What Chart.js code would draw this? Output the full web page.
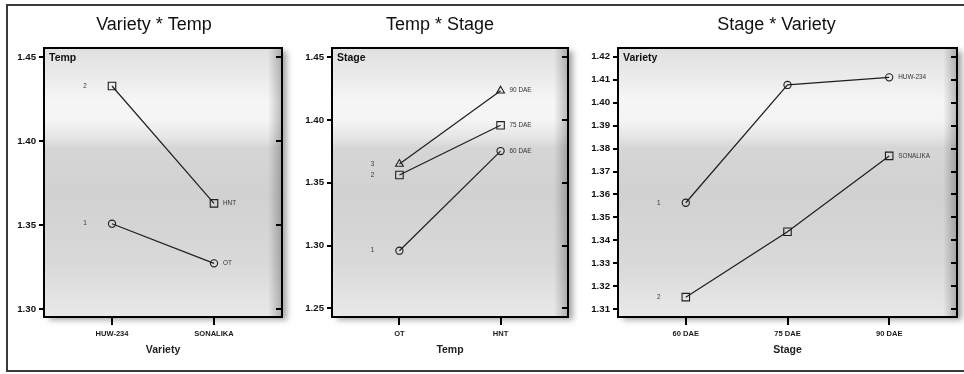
<!DOCTYPE html>
<html><head><meta charset="utf-8">
<script src="https://cdn.jsdelivr.net/npm/chart.js@4"></script>
<style>
html,body{margin:0;padding:0;background:#fff;width:964px;height:374px;overflow:hidden;position:relative}
#frame{position:absolute;left:6px;top:4px;width:990px;height:368px;border:2px solid #3a3a3a;box-sizing:border-box}
canvas{position:absolute;top:0}
</style></head><body>
<div id="frame"></div>
<canvas id="c1" width="292" height="362" style="left:8px"></canvas>
<canvas id="c2" width="280" height="362" style="left:300px"></canvas>
<canvas id="c3" width="375" height="362" style="left:589px"></canvas>
<script>
// ---- data ----
const varieties = ["HUW-234", "SONALIKA"];
const temps = ["OT", "HNT"];
const stages = ["60 DAE", "75 DAE", "90 DAE"];

// Variety * Temp
const vtOT  = [1.3508, 1.3272];
const vtHNT = [1.4327, 1.3629];
// Temp * Stage
const ts60 = [1.2959, 1.3753];
const ts75 = [1.3562, 1.3958];
const ts90 = [1.3650, 1.4234];
// Stage * Variety
const svHUW = [1.3564, 1.4077, 1.4110];
const svSON = [1.3153, 1.3438, 1.3768];

const yTicks1 = [1.30, 1.35, 1.40, 1.45];
const yTicks2 = [1.25, 1.30, 1.35, 1.40, 1.45];
const yTicks3 = [1.31, 1.32, 1.33, 1.34, 1.35, 1.36, 1.37, 1.38, 1.39, 1.40, 1.41, 1.42];

// ---- fonts ----
function hasFont(name){
  const c = document.createElement('canvas').getContext('2d');
  const s = 'abcdefgHIJKLmnop1234WWW';
  c.font = '40px monospace'; const a = c.measureText(s).width;
  c.font = '40px "' + name + '", monospace'; const b = c.measureText(s).width;
  return Math.abs(a - b) > 0.5;
}
const NARROW = hasFont('Liberation Sans Narrow');
const NF = NARROW ? '"Liberation Sans Narrow", "Arial Narrow", sans-serif' : '"Liberation Sans", Arial, sans-serif';
const NS = NARROW ? 1 : 0.84;

const deco = {
  id: 'panelDeco',
  beforeDraw(chart, args, o){
    const {ctx, chartArea: a} = chart;
    ctx.save();
    ctx.shadowColor = 'rgba(0,0,0,0.35)';
    ctx.shadowBlur = 6; ctx.shadowOffsetX = 5; ctx.shadowOffsetY = 3;
    ctx.fillStyle = '#dcdcdc';
    ctx.fillRect(a.left, a.top, a.width, a.height);
    ctx.restore();
    ctx.save();
    const g = ctx.createLinearGradient(0, a.top, 0, a.bottom);
    g.addColorStop(0, '#e0e0e0');
    g.addColorStop(0.10, '#eaeaea');
    g.addColorStop(0.20, '#f6f6f6');
    g.addColorStop(0.27, '#f4f4f4');
    g.addColorStop(0.33, '#e6e6e6');
    g.addColorStop(0.37, '#d6d6d6');
    g.addColorStop(0.55, '#d1d1d1');
    g.addColorStop(0.80, '#d9d9d9');
    g.addColorStop(0.95, '#e5e5e5');
    g.addColorStop(1, '#e8e8e8');
    ctx.fillStyle = g;
    ctx.fillRect(a.left, a.top, a.width, a.height);
    const h = ctx.createLinearGradient(a.right - 14, 0, a.right, 0);
    h.addColorStop(0, 'rgba(0,0,0,0)');
    h.addColorStop(1, 'rgba(0,0,0,0.25)');
    ctx.fillStyle = h;
    ctx.fillRect(a.right - 14, a.top, 14, a.height);
    ctx.restore();
  },
  afterDatasetsDraw(chart, args, o){
    const {ctx, chartArea: a} = chart;
    const ys = chart.scales.y;
    ctx.save();
    ctx.strokeStyle = '#000'; ctx.lineWidth = 2;
    ctx.strokeRect(a.left, a.top, a.width, a.height);
    ctx.beginPath();
    ys.ticks.forEach(t => {
      const y = Math.round(ys.getPixelForValue(t.value));
      ctx.moveTo(a.right - 6, y); ctx.lineTo(a.right, y);
    });
    ctx.stroke();
    ctx.fillStyle = '#111';
    ctx.font = 'bold ' + (12.5 * NS) + 'px ' + NF;
    ctx.textAlign = 'left'; ctx.textBaseline = 'middle';
    ctx.fillText(o.inner, a.left + 5, a.top + 10);
    ctx.font = (7 * NS + (NARROW ? 0 : 0.5)) + 'px ' + NF;
    ctx.fillStyle = '#333';
    chart.data.datasets.forEach((d, i) => {
      const m = chart.getDatasetMeta(i);
      const f = m.data[0], l = m.data[m.data.length - 1];
      ctx.textAlign = 'center';
      ctx.fillText(o.left[i], f.x - 27, f.y);
      ctx.textAlign = 'left';
      ctx.fillText(o.right[i], l.x + 9, l.y);
    });
    ctx.restore();
  }
};

function panel(id, o){
  const ds = o.series.map(s => ({
    data: s.values.map((v, j) => ({x: j, y: v})),
    borderColor: '#1e1e1e', borderWidth: 1.2,
    pointStyle: s.style, pointRadius: s.r, pointHoverRadius: s.r,
    pointBorderColor: '#1e1e1e', pointBackgroundColor: 'rgba(0,0,0,0)', pointBorderWidth: 1.1,
    tension: 0, fill: false
  }));
  return new Chart(document.getElementById(id), {
    type: 'line',
    data: {datasets: ds},
    options: {
      responsive: false, animation: false, devicePixelRatio: 1,
      layout: {padding: 0},
      plugins: {
        legend: {display: false}, tooltip: {enabled: false},
        title: {display: true, text: o.title,
          font: {family: '"Liberation Sans", Arial, sans-serif', size: 18, weight: 'normal', lineHeight: 1.2},
          color: '#111', padding: {top: 14, bottom: 12.4}},
        panelDeco: {inner: o.inner, left: o.left, right: o.right}
      },
      scales: {
        x: {type: 'linear', min: -2/3, max: o.cats.length - 1 + 2/3,
          afterBuildTicks: s => { s.ticks = o.cats.map((c, i) => ({value: i})); },
          ticks: {callback: (v, i) => o.cats[i], font: {family: NF, size: 9 * NS, weight: 'bold'},
            color: '#1a1a1a', padding: 4, autoSkip: false, maxRotation: 0},
          grid: {display: true, drawOnChartArea: false, drawTicks: true, tickLength: 8, lineWidth: 2, color: '#000'},
          border: {display: false},
          title: {display: true, text: o.xTitle, font: {family: NF, size: 12.5 * NS, weight: 'bold'},
            color: '#222', padding: {top: 0, bottom: 5.5}},
          afterFit: s => { s.height = 45; }},
        y: {type: 'linear', min: o.min, max: o.max,
          afterBuildTicks: s => { s.ticks = o.ticks.map(v => ({value: v})); },
          ticks: {callback: v => v.toFixed(2), font: {family: NF, size: 11.5 * NS, weight: 'bold'}, color: '#111', padding: 3},
          grid: {display: true, drawOnChartArea: false, tickLength: 5, lineWidth: 2, color: '#000'},
          border: {display: false},
          afterFit: s => { s.width = o.yw; }},
        yR: {position: 'right', display: true, min: 0, max: 1,
          ticks: {display: false}, grid: {display: false}, border: {display: false},
          afterFit: s => { s.width = o.rw; }}
      }
    },
    plugins: [deco]
  });
}

panel('c1', {
  title: 'Variety * Temp', xTitle: 'Variety', inner: 'Temp', cats: varieties,
  min: 1.2953, max: 1.4553, ticks: yTicks1, yw: 36, rw: 18,
  series: [
    {values: vtOT, style: 'circle', r: 3.6},
    {values: vtHNT, style: 'rect', r: 5.3}
  ],
  left: ['1', '2'], right: temps
});
panel('c2', {
  title: 'Temp * Stage', xTitle: 'Temp', inner: 'Stage', cats: temps,
  min: 1.2431, max: 1.4574, ticks: yTicks2, yw: 32, rw: 12,
  series: [
    {values: ts60, style: 'circle', r: 3.6},
    {values: ts75, style: 'rect', r: 5.3},
    {values: ts90, style: 'triangle', r: 4.5}
  ],
  left: ['1', '2', '3'], right: stages
});
panel('c3', {
  title: 'Stage * Variety', xTitle: 'Stage', inner: 'Variety', cats: stages,
  min: 1.30665, max: 1.42379, ticks: yTicks3, yw: 29, rw: 7,
  series: [
    {values: svHUW, style: 'circle', r: 3.6},
    {values: svSON, style: 'rect', r: 5.3}
  ],
  left: ['1', '2'], right: varieties
});
</script>
</body></html>
